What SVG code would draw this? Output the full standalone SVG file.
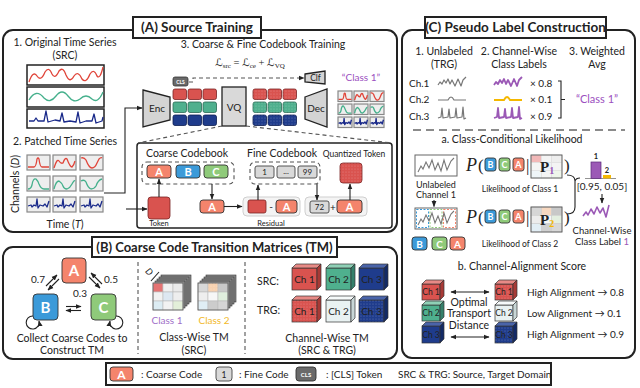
<svg xmlns="http://www.w3.org/2000/svg" width="640" height="388" viewBox="0 0 640 388">
<defs>
<style>
text{font-family:Lato,"Liberation Sans",sans-serif;fill:#222}
.t{font-size:10.5px}
.sm{font-size:8.5px}
.h{font-size:13.5px;font-weight:bold}
.c{text-anchor:middle}
.panel{fill:#fff;stroke:#222;stroke-width:2}
.tbox{fill:#fff;stroke:#222;stroke-width:2}
.ln{fill:none;stroke:#222;stroke-width:1.1}
.dash{fill:none;stroke:#555;stroke-width:1.1;stroke-dasharray:4 3}
.box{fill:#fff;stroke:#222;stroke-width:1.5}
.patch{fill:#eee;stroke:#888;stroke-width:1.2}
.sa{fill:#f4846c;stroke:#333;stroke-width:0.9}
.sb{fill:#3b9ad9;stroke:#333;stroke-width:0.9}
.sc{fill:#8fca7a;stroke:#333;stroke-width:0.9}
.lt{fill:#fff;font-weight:bold;text-anchor:middle}
.fine{fill:#d9d9d9;stroke:#444;stroke-width:0.9}
.rd{fill:#d9534f;stroke:#7a2323;stroke-width:0.8}
.tl{fill:#4fb08e;stroke:#2a6a54;stroke-width:0.8}
.nv{fill:#1f3c8c;stroke:#0d1d50;stroke-width:0.8}
.w{fill:none;stroke-width:1.3;stroke-linejoin:round;vector-effect:non-scaling-stroke}
.wr{stroke:#e0453a}.wt{stroke:#45b08c}.wn{stroke:#1a2a8a}
.cube{stroke:#333;stroke-width:0.7}
.mono{font-family:"Liberation Serif",serif}
.scr{font-family:"DejaVu Sans",sans-serif;font-style:italic}
</style>
<marker id="ah" viewBox="0 0 10 10" refX="9" refY="5" markerUnits="userSpaceOnUse" markerWidth="6" markerHeight="6" orient="auto-start-reverse"><path d="M0,1 L10,5 L0,9 z" fill="#222"/></marker>
<pattern id="dots" width="3" height="3" patternUnits="userSpaceOnUse"><circle cx="1" cy="1" r="0.5" fill="#fff" fill-opacity="0.35"/></pattern>
<path id="r1" class="w" d="M1,12 H7 Q9,12 10,4 Q11,2 12,4 Q13,12 15,12 H22"/>
<path id="r2" class="w" d="M1,13 Q4,3 6,6 Q8,9 10,8 Q12,2 14,4 Q17,12 19,12 Q21,10 22,6"/>
<path id="r3" class="w" d="M1,3 Q4,2 6,5 Q9,13 12,13 Q15,13 17,8 L19,4 Q21,2 22,3"/>
<path id="t1" class="w" d="M1,13 Q4,13 5,9 Q6,2 9,3 Q11,5 12,8 Q14,13 17,13 H22"/>
<path id="t2" class="w" d="M1,13 Q3,5 6,5 Q9,7 10,10 Q11,13 14,13 Q17,12 19,8 Q21,4 22,5"/>
<path id="t3" class="w" d="M1,5 Q4,3 6,6 Q8,12 11,13 Q14,13 16,10 Q18,4 22,3"/>
<path id="n1" class="w" d="M1,9 L4,8 L5,10 L7,8 L9,9 L10,2 L11,11 L13,8 L16,9 L18,7 L20,10 L22,4"/>
<path id="cw1" fill="none" stroke-linejoin="round" d="M438,85 L440,82 L442,84 L444,80 L446,83 L448,79 L450,84 L452,80 L455,86 L458,79 L461,86 L463,80 L466,77"/>
<path id="cw2" fill="none" d="M438,100 H448 Q451,94 454,100 H466"/>
<path id="cw3" fill="none" stroke-linejoin="round" d="M438,118 L441,117 L442,108 L443,118 L448,117 L449,109 L450,118 L455,117 L456,108 L457,118 L462,117 L463,107 L464,119 L466,118"/>
</defs>

<!-- Panels -->
<g id="panelA">
<rect class="panel" x="3" y="30" width="394" height="202" rx="10"/>
<rect class="tbox" x="133" y="17" width="128" height="21"/>
<text class="h c" x="197" y="32">(A) Source Training</text>
</g>
<g id="panelB">
<rect class="panel" x="3" y="247" width="394" height="112" rx="10"/>
<rect class="tbox" x="92" y="237" width="245" height="20"/>
<text class="h c" x="214.5" y="252" style="font-size:13px">(B) Coarse Code Transition Matrices (TM)</text>
</g>
<g id="panelC">
<rect class="panel" x="402" y="30" width="233" height="328" rx="10"/>
<rect class="tbox" x="425" y="17" width="181" height="21"/>
<text class="h c" x="515.5" y="32">(C) Pseudo Label Construction</text>
</g>

<!-- Section A1: original series -->
<g id="orig-series">
<text class="t c" x="65" y="46">1. Original Time Series</text>
<text class="t c" x="65" y="59">(SRC)</text>
<rect class="box" x="27" y="65" width="77" height="20"/>
<rect class="box" x="27" y="87" width="77" height="20"/>
<rect class="box" x="27" y="109" width="77" height="19"/>
<path class="w wr" d="M29,82 Q33,70 37,76 Q41,82 45,72 Q49,66 52,74 Q55,80 59,71 Q63,66 66,75 Q70,84 74,76 Q78,70 82,79 Q86,84 90,74 Q94,68 97,76 Q100,80 103,67"/>
<path class="w wt" d="M29,100 Q36,88 44,98 Q50,104 56,96 Q62,88 68,96 Q74,104 80,99 Q86,93 92,99 Q98,104 103,92"/>
<path class="w wn" d="M29,121 L34,121 L36,118 L38,121 L44,121 L46,111 L48,122 L55,120 L60,121 L62,113 L64,122 L70,121 L76,122 L78,112 L80,123 L86,121 L92,121 L94,114 L96,123 L102,121 L103,117"/>
</g>

<!-- Section A2: patched series -->
<g id="patched-series">
<text class="t c" x="65" y="145">2. Patched Time Series</text>
<rect class="patch" x="27" y="155" width="23" height="15"/><use href="#r1" class="wr" x="27" y="155"/>
<rect class="patch" x="53" y="155" width="23" height="15"/><use href="#r2" class="wr" x="53" y="155"/>
<rect class="patch" x="80" y="155" width="23" height="15"/><use href="#r3" class="wr" x="80" y="155"/>
<rect class="patch" x="27" y="176" width="23" height="15"/><use href="#t1" class="wt" x="27" y="176"/>
<rect class="patch" x="53" y="176" width="23" height="15"/><use href="#t2" class="wt" x="53" y="176"/>
<rect class="patch" x="80" y="176" width="23" height="15"/><use href="#t3" class="wt" x="80" y="176"/>
<rect class="patch" x="27" y="197" width="23" height="15"/><use href="#n1" class="wn" x="27" y="197"/>
<rect class="patch" x="53" y="197" width="23" height="15"/><use href="#n1" class="wn" x="53" y="197"/>
<rect class="patch" x="80" y="197" width="23" height="15"/><use href="#n1" class="wn" x="80" y="197"/>
<text class="t c" transform="translate(19,184) rotate(-90)">Channels (<tspan font-style="italic">D</tspan>)</text>
<text class="t c" x="65" y="228">Time (<tspan font-style="italic">T</tspan>)</text>
</g>

<!-- Section A3 -->
<g id="training">
<text class="t c" x="263" y="48">3. Coarse &amp; Fine Codebook Training</text>
<text x="250" y="66" class="c mono" font-size="10.5"><tspan class="scr">ℒ</tspan><tspan font-size="7" dy="2">src</tspan><tspan dy="-2"> = </tspan><tspan class="scr">ℒ</tspan><tspan font-size="7" dy="2">ce</tspan><tspan dy="-2"> + </tspan><tspan class="scr">ℒ</tspan><tspan font-size="7" dy="2">VQ</tspan></text>
</g>
<g id="cls-token">
<rect x="173" y="77" width="15" height="9" rx="2" fill="#6a6a6a" stroke="#333" stroke-width="0.8"/>
<text x="180.5" y="83.5" class="c" font-size="5" style="fill:#fff;font-weight:bold">CLS</text>
</g>
<g id="enc">
<polygon points="143,90 170,97 170,120 143,127" fill="#d4d4d4" stroke="#222" stroke-width="1.3"/>
<text class="c" x="157" y="112" font-size="10">Enc</text>
</g>
<g id="tokens">
<rect class="rd" x="173" y="89" width="13.5" height="10.5" rx="2"/><rect class="rd" x="188" y="89" width="13.5" height="10.5" rx="2"/><rect class="rd" x="203" y="89" width="13.5" height="10.5" rx="2"/>
<rect class="tl" x="173" y="102" width="13.5" height="10.5" rx="2"/><rect class="tl" x="188" y="102" width="13.5" height="10.5" rx="2"/><rect class="tl" x="203" y="102" width="13.5" height="10.5" rx="2"/>
<rect class="nv" x="173" y="115" width="13.5" height="10.5" rx="2"/><rect class="nv" x="188" y="115" width="13.5" height="10.5" rx="2"/><rect class="nv" x="203" y="115" width="13.5" height="10.5" rx="2"/>
</g>
<g id="vq">
<rect x="222" y="87" width="24" height="39" fill="#d9d9d9" stroke="#222" stroke-width="1.3"/>
<text class="c" x="234" y="111" font-size="10">VQ</text>
</g>
<g id="quantized">
<rect class="rd" x="253" y="89" width="13.5" height="10.5" rx="2"/><rect class="rd" x="268" y="89" width="13.5" height="10.5" rx="2"/><rect class="rd" x="283" y="89" width="13.5" height="10.5" rx="2"/>
<rect class="tl" x="253" y="102" width="13.5" height="10.5" rx="2"/><rect class="tl" x="268" y="102" width="13.5" height="10.5" rx="2"/><rect class="tl" x="283" y="102" width="13.5" height="10.5" rx="2"/>
<rect class="nv" x="253" y="115" width="13.5" height="10.5" rx="2"/><rect class="nv" x="268" y="115" width="13.5" height="10.5" rx="2"/><rect class="nv" x="283" y="115" width="13.5" height="10.5" rx="2"/>
<rect x="253" y="89" width="44" height="37" fill="url(#dots)"/>
</g>
<g id="clf">
<polygon points="305,74 325,71 325,84 305,82" fill="#d4d4d4" stroke="#222" stroke-width="1.3"/>
<text class="c" x="315.5" y="81" font-size="8.5">Clf</text>
</g>
<g id="class-out">
<text class="c" x="361" y="81" font-size="10" style="fill:#9b4fc0">“Class 1”</text>
</g>
<g id="dec">
<polygon points="305,97 327,89 327,127 305,119" fill="#d4d4d4" stroke="#222" stroke-width="1.3"/>
<text class="c" x="316" y="112" font-size="10">Dec</text>
</g>
<g id="recon">
<rect class="patch" x="338" y="91" width="14" height="10.5" stroke-width="0.9"/><use href="#r1" class="wr" transform="translate(338,91) scale(0.61,0.7)"/>
<rect class="patch" x="354" y="91" width="14" height="10.5" stroke-width="0.9"/><use href="#r2" class="wr" transform="translate(354,91) scale(0.61,0.7)"/>
<rect class="patch" x="370" y="91" width="14" height="10.5" stroke-width="0.9"/><use href="#r3" class="wr" transform="translate(370,91) scale(0.61,0.7)"/>
<rect class="patch" x="338" y="104" width="14" height="10.5" stroke-width="0.9"/><use href="#t1" class="wt" transform="translate(338,104) scale(0.61,0.7)"/>
<rect class="patch" x="354" y="104" width="14" height="10.5" stroke-width="0.9"/><use href="#t2" class="wt" transform="translate(354,104) scale(0.61,0.7)"/>
<rect class="patch" x="370" y="104" width="14" height="10.5" stroke-width="0.9"/><use href="#t3" class="wt" transform="translate(370,104) scale(0.61,0.7)"/>
<rect class="patch" x="338" y="117" width="14" height="10.5" stroke-width="0.9"/><use href="#n1" class="wn" transform="translate(338,117) scale(0.61,0.7)"/>
<rect class="patch" x="354" y="117" width="14" height="10.5" stroke-width="0.9"/><use href="#n1" class="wn" transform="translate(354,117) scale(0.61,0.7)"/>
<rect class="patch" x="370" y="117" width="14" height="10.5" stroke-width="0.9"/><use href="#n1" class="wn" transform="translate(370,117) scale(0.61,0.7)"/>
</g>

<!-- Inner codebook box -->
<g id="codebook-box">
<rect x="137" y="143" width="255" height="85" rx="3" fill="#fff" stroke="#222" stroke-width="1.5"/>
<text class="t c" x="187" y="157">Coarse Codebook</text>
<rect class="dash" x="142" y="162" width="92" height="22" rx="5"/>
<text class="t c" x="282" y="157">Fine Codebook</text>
<rect class="dash" x="250" y="162" width="70" height="22" rx="5"/>
<text class="sm c" x="354" y="157">Quantized Token</text>
</g>
<g id="coarse-A"><rect class="sa" x="147" y="165" width="24" height="13" rx="3"/><text class="lt" x="159" y="175.5" font-size="11">A</text></g>
<g id="coarse-B"><rect class="sb" x="176" y="165" width="24" height="13" rx="3"/><text class="lt" x="188" y="175.5" font-size="11">B</text></g>
<g id="coarse-C"><rect class="sc" x="204" y="165" width="24" height="13" rx="3"/><text class="lt" x="216" y="175.5" font-size="11">C</text></g>
<g id="fine-1"><rect class="fine" x="255" y="166" width="19" height="12" rx="2"/><text class="c" x="264.5" y="175" font-size="8">1</text></g>
<g id="fine-dots"><rect class="fine" x="277" y="166" width="18" height="12" rx="2"/><text class="c" x="286" y="174" font-size="8">...</text></g>
<g id="fine-99"><rect class="fine" x="298" y="166" width="19" height="12" rx="2"/><text class="c" x="307.5" y="175" font-size="8">99</text></g>
<g id="token"><rect class="rd" x="148" y="197" width="22" height="22" rx="3"/><text class="c" x="159" y="226" font-size="7.5">Token</text></g>
<g id="selected-A"><rect class="sa" x="200" y="200" width="24" height="13" rx="3"/><text class="lt" x="212" y="210.5" font-size="11">A</text></g>
<g id="residual">
<rect x="243" y="197" width="57" height="19" rx="4" fill="#f4f4f4" stroke="#cfcfcf"/>
<rect class="rd" x="248" y="200" width="18" height="13" rx="2"/>
<text class="c" x="271" y="210" font-size="10">-</text>
<rect class="sa" x="276" y="200" width="21" height="13" rx="3"/><text class="lt" x="286.5" y="210.5" font-size="11">A</text>
<text class="c" x="271" y="226" font-size="7.5">Residual</text>
</g>
<g id="sum">
<rect x="305" y="197" width="62" height="19" rx="4" fill="#f4f4f4" stroke="#cfcfcf"/>
<rect class="fine" x="310" y="201" width="19" height="12" rx="2"/><text class="c" x="319.5" y="210" font-size="8">72</text>
<text class="c" x="333" y="210.5" font-size="10">+</text>
<rect class="sa" x="337" y="200" width="25" height="13" rx="3"/><text class="lt" x="349.5" y="210.5" font-size="11">A</text>
</g>
<g id="quantized-token"><rect class="rd" x="340" y="163" width="22" height="20" rx="3"/><rect x="340" y="163" width="22" height="20" rx="3" fill="url(#dots)"/></g>

<!-- Panel B content -->
<g id="node-A"><rect class="sa" x="62" y="258" width="24" height="25" rx="4" stroke-width="1.2"/><text class="lt" x="74" y="276" font-size="15">A</text></g>
<g id="node-B"><rect class="sb" x="33" y="294" width="25" height="26" rx="4" stroke-width="1.2"/><text class="lt" x="45.5" y="312.5" font-size="15">B</text></g>
<g id="node-C"><rect class="sc" x="91" y="294" width="25" height="26" rx="4" stroke-width="1.2"/><text class="lt" x="103.5" y="312.5" font-size="15">C</text></g>
<g id="graph-labels">
<text class="c" x="38" y="283" font-size="10">0.7</text>
<text class="c" x="111" y="283" font-size="10">0.5</text>
<text class="c" x="80" y="297" font-size="10">0.3</text>
<text class="t c" x="72" y="342">Collect Coarse Codes to</text>
<text class="t c" x="72" y="354">Construct TM</text>
</g>
<g id="dividers">
<path class="dash" d="M138,262 V354 M245,262 V354"/>
</g>
<g id="classwise-tm">
<g stroke="#333" stroke-width="0.6" fill="#8a8a8a">
<rect x="161" y="275" width="30" height="27"/><rect x="159" y="277" width="30" height="27"/><rect x="157" y="279" width="30" height="27"/><rect x="155" y="281" width="30" height="27"/>
<rect x="206" y="275" width="30" height="27"/><rect x="204" y="277" width="30" height="27"/><rect x="202" y="279" width="30" height="27"/><rect x="200" y="281" width="30" height="27"/>
</g>
<g stroke="#bbb" stroke-width="0.6">
<rect x="153" y="283" width="10" height="9" fill="#e57373"/><rect x="163" y="283" width="10" height="9" fill="#f0f0f0"/><rect x="173" y="283" width="10" height="9" fill="#eaeaea"/>
<rect x="153" y="292" width="10" height="9" fill="#f2f2f2"/><rect x="163" y="292" width="10" height="9" fill="#dde8f2"/><rect x="173" y="292" width="10" height="9" fill="#eeeeee"/>
<rect x="153" y="301" width="10" height="9" fill="#dcecf3"/><rect x="163" y="301" width="10" height="9" fill="#f2f2f2"/><rect x="173" y="301" width="10" height="9" fill="#e3efd9"/>
<rect x="198" y="283" width="10" height="9" fill="#d8d8d8"/><rect x="208" y="283" width="10" height="9" fill="#f7d1b0"/><rect x="218" y="283" width="10" height="9" fill="#c8c8c8"/>
<rect x="198" y="292" width="10" height="9" fill="#eeeeee"/><rect x="208" y="292" width="10" height="9" fill="#f7f7f7"/><rect x="218" y="292" width="10" height="9" fill="#dfeedd"/>
<rect x="198" y="301" width="10" height="9" fill="#e0eef5"/><rect x="208" y="301" width="10" height="9" fill="#cccccc"/><rect x="218" y="301" width="10" height="9" fill="#d5d5d5"/>
</g>
<rect x="153" y="283" width="30" height="27" fill="none" stroke="#555" stroke-width="0.8"/>
<rect x="198" y="283" width="30" height="27" fill="none" stroke="#555" stroke-width="0.8"/>
<rect x="208" y="283" width="10" height="9" fill="url(#dots)"/>
<text transform="translate(147,274) rotate(45)" class="c" font-size="9" font-style="italic">D</text>
<path class="ln" d="M151,281 L159,272"/>
<text class="c" x="167" y="324" font-size="10" style="fill:#a070c8">Class 1</text>
<text class="c" x="214" y="324" font-size="10" style="fill:#f2b92a">Class 2</text>
<text class="t c" x="194" y="341">Class-Wise TM</text>
<text class="t c" x="194" y="354">(SRC)</text>
</g>
<g id="channelwise-tm">
<text class="t" x="257" y="285">SRC:</text>
<text class="t" x="257" y="314">TRG:</text>
<g class="cube">
<rect x="292" y="268" width="25" height="22" fill="#d9534f"/><polygon points="292,268 296,264 321,264 317,268" fill="#e88a86"/><polygon points="317,268 321,264 321,286 317,290" fill="#a83a36"/>
<rect x="326" y="268" width="25" height="22" fill="#4fb08e"/><polygon points="326,268 330,264 355,264 351,268" fill="#8fd0b6"/><polygon points="351,268 355,264 355,286 351,290" fill="#35806a"/>
<rect x="359" y="268" width="25" height="22" fill="#1f3c8c"/><polygon points="359,268 363,264 388,264 384,268" fill="#4a64aa"/><polygon points="384,268 388,264 388,286 384,290" fill="#132a66"/>
<rect x="292" y="300" width="25" height="22" fill="#d9534f"/><polygon points="292,300 296,296 321,296 317,300" fill="#e88a86"/><polygon points="317,300 321,296 321,318 317,322" fill="#a83a36"/>
<rect x="326" y="300" width="25" height="22" fill="#e9f2f2"/><polygon points="326,300 330,296 355,296 351,300" fill="#f6fafa"/><polygon points="351,300 355,296 355,318 351,322" fill="#c8d6d6"/>
<rect x="359" y="300" width="25" height="22" fill="#1f3c8c"/><polygon points="359,300 363,296 388,296 384,300" fill="#4a64aa"/><polygon points="384,300 388,296 388,318 384,322" fill="#132a66"/>
</g>
<rect x="292" y="300" width="25" height="22" fill="url(#dots)"/>
<rect x="359" y="300" width="25" height="22" fill="url(#dots)"/>
<g font-size="10" class="c">
<text class="c" x="304.5" y="283">Ch 1</text><text class="c" x="338.5" y="283">Ch 2</text><text class="c" x="371.5" y="283">Ch 3</text>
<text class="c" x="304.5" y="315">Ch 1</text><text class="c" x="338.5" y="315">Ch 2</text><text class="c" x="371.5" y="315">Ch 3</text>
</g>
<text class="t c" x="327" y="342">Channel-Wise TM</text>
<text class="t c" x="327" y="354">(SRC &amp; TRG)</text>
</g>

<!-- Panel C content -->
<g id="c-step-titles">
<text class="t c" x="444" y="55">1. Unlabeled</text>
<text class="t c" x="444" y="68">(TRG)</text>
<text class="t c" x="519" y="55">2. Channel-Wise</text>
<text class="t c" x="519" y="68">Class Labels</text>
<text class="t c" x="597" y="55">3. Weighted</text>
<text class="t c" x="597" y="68">Avg</text>
</g>
<g id="c-channels">
<text x="409" y="86.5" font-size="10">Ch.1</text>
<text x="409" y="103" font-size="10">Ch.2</text>
<text x="409" y="120" font-size="10">Ch.3</text>
<g stroke="#777" stroke-width="1.2"><use href="#cw1"/><use href="#cw2"/><use href="#cw3"/></g>
<g stroke-width="1.8" transform="translate(56,0)"><use href="#cw1" stroke="#9b59b6"/><use href="#cw2" stroke="#f5b800"/><use href="#cw3" stroke="#9b59b6"/></g>
<text x="530" y="86.5" font-size="10">× 0.8</text>
<text x="530" y="103" font-size="10">× 0.1</text>
<text x="530" y="120" font-size="10">× 0.9</text>
<path class="ln" d="M558,81 H561 V118 H558 M561,99.5 H565"/>
<text class="c" x="597" y="103" font-size="11" style="fill:#9b4fc0">“Class 1”</text>
</g>
<path d="M413,130 H625" fill="none" stroke="#666" stroke-width="1.5" stroke-dasharray="8 5"/>
<g id="likelihood">
<text class="t c" x="512" y="143">a. Class-Conditional Likelihood</text>
<rect x="415" y="155" width="42" height="21" fill="#fff" stroke="#666"/>
<path fill="none" stroke="#777" stroke-width="1.1" d="M418,172 L421,166 L423,169 L426,162 L429,168 L432,160 L435,170 L438,163 L441,171 L444,160 L447,170 L451,161 L454,158"/>
<text class="c" x="436" y="187.5" font-size="9">Unlabeled</text>
<text class="c" x="436" y="198" font-size="9">Channel 1</text>
<rect x="415" y="208" width="42" height="21" fill="#fff" stroke="#666"/>
<rect x="416.5" y="209.5" width="12" height="18" fill="none" stroke="#3b9ad9" stroke-dasharray="2 1.5"/>
<rect x="430" y="209.5" width="12" height="18" fill="none" stroke="#8fca7a" stroke-dasharray="2 1.5"/>
<rect x="443.5" y="209.5" width="12" height="18" fill="none" stroke="#f4846c" stroke-dasharray="2 1.5"/>
<path fill="none" stroke="#777" stroke-width="1.1" d="M418,225 L421,219 L423,222 L426,215 L429,221 L432,213 L435,223 L438,216 L441,224 L444,213 L447,223 L451,214 L454,211"/>
<rect class="sb" x="412" y="237" width="15" height="13" rx="3"/><text class="lt" x="419.5" y="247.5" font-size="10">B</text>
<rect class="sc" x="432" y="237" width="15" height="13" rx="3"/><text class="lt" x="439.5" y="247.5" font-size="10">C</text>
<rect class="sa" x="450" y="237" width="15" height="13" rx="3"/><text class="lt" x="457.5" y="247.5" font-size="10">A</text>
</g>
<g id="likelihood-1">
<text x="466" y="171" class="mono" font-size="18" font-style="italic">P</text>
<text x="478" y="171" class="mono" font-size="17">(</text>
<rect class="sb" x="485" y="158" width="11" height="13" rx="2.5"/><text class="lt" x="490.5" y="168" font-size="9">B</text>
<rect class="sc" x="499" y="158" width="11" height="13" rx="2.5"/><text class="lt" x="504.5" y="168" font-size="9">C</text>
<rect class="sa" x="513" y="158" width="11" height="13" rx="2.5"/><text class="lt" x="518.5" y="168" font-size="9">A</text>
<text x="526" y="171" class="mono" font-size="17">|</text>
<g stroke="#ddd" stroke-width="0.6"><rect x="531" y="155" width="10.3" height="7.7" fill="#f2b8b8"/><rect x="541.3" y="155" width="10.3" height="7.7" fill="#f4f4f4"/><rect x="551.6" y="155" width="10.3" height="7.7" fill="#eee"/>
<rect x="531" y="162.7" width="10.3" height="7.7" fill="#f4f4f4"/><rect x="541.3" y="162.7" width="10.3" height="7.7" fill="#eef3f7"/><rect x="551.6" y="162.7" width="10.3" height="7.7" fill="#f4f4f4"/>
<rect x="531" y="170.4" width="10.3" height="7.7" fill="#eef5f8"/><rect x="541.3" y="170.4" width="10.3" height="7.7" fill="#f4f4f4"/><rect x="551.6" y="170.4" width="10.3" height="7.7" fill="#eef5ea"/></g>
<rect x="531" y="155" width="31" height="23" fill="none" stroke="#555" stroke-width="0.9"/>
<text x="540" y="172" class="mono" font-size="15" font-weight="bold">P<tspan font-size="10" dy="2" style="fill:#9b59b6">1</tspan></text>
<text x="564" y="171" class="mono" font-size="17">)</text>
<text class="c" x="520" y="192" font-size="8.5">Likelihood of Class 1</text>
</g>
<g id="likelihood-2">
<text x="466" y="223" class="mono" font-size="18" font-style="italic">P</text>
<text x="478" y="223" class="mono" font-size="17">(</text>
<rect class="sb" x="485" y="210" width="11" height="13" rx="2.5"/><text class="lt" x="490.5" y="220" font-size="9">B</text>
<rect class="sc" x="499" y="210" width="11" height="13" rx="2.5"/><text class="lt" x="504.5" y="220" font-size="9">C</text>
<rect class="sa" x="513" y="210" width="11" height="13" rx="2.5"/><text class="lt" x="518.5" y="220" font-size="9">A</text>
<text x="526" y="223" class="mono" font-size="17">|</text>
<g stroke="#ccc" stroke-width="0.6"><rect x="531" y="207" width="10.3" height="8.3" fill="#d6d6d6"/><rect x="541.3" y="207" width="10.3" height="8.3" fill="#f7d8c0"/><rect x="551.6" y="207" width="10.3" height="8.3" fill="#c8c8c8"/>
<rect x="531" y="215.3" width="10.3" height="8.3" fill="#ececec"/><rect x="541.3" y="215.3" width="10.3" height="8.3" fill="#f6f6f6"/><rect x="551.6" y="215.3" width="10.3" height="8.3" fill="#e3efe0"/>
<rect x="531" y="223.6" width="10.3" height="8.3" fill="#e2eef5"/><rect x="541.3" y="223.6" width="10.3" height="8.3" fill="#d0d0d0"/><rect x="551.6" y="223.6" width="10.3" height="8.3" fill="#d8d8d8"/></g>
<rect x="531" y="207" width="31" height="25" fill="none" stroke="#555" stroke-width="0.9"/>
<text x="540" y="225" class="mono" font-size="15" font-weight="bold">P<tspan font-size="10" dy="2" style="fill:#f5b800">2</tspan></text>
<text x="564" y="223" class="mono" font-size="17">)</text>
<text class="c" x="520" y="246.5" font-size="8.5">Likelihood of Class 2</text>
</g>
<g id="class-probs">
<path class="ln" d="M567,175 Q575,175 575,181 V207 Q575,214 567,214 M575,181 Q576,178 580,178"/>
<path d="M585,178.5 H616" stroke="#777" stroke-width="0.8"/>
<rect x="591" y="162" width="10" height="16.5" fill="#9b59b6" stroke="#5a2a7a" stroke-width="0.7"/>
<rect x="603" y="175" width="8" height="3.5" fill="#f5b800"/>
<text class="c" x="596" y="159" font-size="7.5" font-weight="bold">1</text>
<text class="c" x="607" y="173" font-size="7.5" font-weight="bold">2</text>
<text class="c" x="602" y="190" font-size="10">[0.95, 0.05]</text>
<path fill="none" stroke="#9b59b6" stroke-width="1.6" stroke-linejoin="round" d="M583,216 L586,212 L588,215 L591,209 L594,214 L597,207 L600,213 L603,208 L606,217 L609,205"/>
<text class="c" x="602" y="233.5" font-size="9.5">Channel-Wise</text>
<text class="c" x="602" y="245" font-size="9.5">Class Label <tspan style="fill:#9b59b6">1</tspan></text>
</g>
<g id="alignment">
<text class="t c" x="522" y="269.5">b. Channel-Alignment Score</text>
<g class="cube">
<rect x="422" y="284" width="18" height="16" fill="#d9534f"/><polygon points="422,284 426,280 444,280 440,284" fill="#e88a86"/><polygon points="440,284 444,280 444,296 440,300" fill="#a83a36"/>
<rect x="422" y="305" width="18" height="16" fill="#4fb08e"/><polygon points="422,305 426,301 444,301 440,305" fill="#8fd0b6"/><polygon points="440,305 444,301 444,317 440,321" fill="#35806a"/>
<rect x="422" y="326" width="18" height="17" fill="#1f3c8c"/><polygon points="422,326 426,322 444,322 440,326" fill="#4a64aa"/><polygon points="440,326 444,322 444,339 440,343" fill="#132a66"/>
<rect x="495" y="284" width="18" height="16" fill="#d9534f"/><polygon points="495,284 499,280 517,280 513,284" fill="#e88a86"/><polygon points="513,284 517,280 517,296 513,300" fill="#a83a36"/>
<rect x="495" y="305" width="18" height="16" fill="#e9f2f2"/><polygon points="495,305 499,301 517,301 513,305" fill="#f6fafa"/><polygon points="513,305 517,301 517,317 513,321" fill="#c8d6d6"/>
<rect x="495" y="326" width="18" height="17" fill="#1f3c8c"/><polygon points="495,326 499,322 517,322 513,326" fill="#4a64aa"/><polygon points="513,326 517,322 517,339 513,343" fill="#132a66"/>
</g>
<rect x="495" y="284" width="18" height="16" fill="url(#dots)"/>
<rect x="495" y="326" width="18" height="17" fill="url(#dots)"/>
<g font-size="8.5">
<text class="c" x="431" y="295">Ch 1</text><text class="c" x="431" y="316">Ch 2</text><text class="c" x="431" y="337.5">Ch 3</text>
<text class="c" x="504" y="295">Ch 1</text><text class="c" x="504" y="316">Ch 2</text><text class="c" x="504" y="337.5">Ch 3</text>
</g>
<text class="t c" x="469" y="306">Optimal</text>
<text class="t c" x="469" y="317">Transport</text>
<text class="t c" x="469" y="328.5">Distance</text>
<text x="527" y="295.5" font-size="10">High Alignment → 0.8</text>
<text x="527" y="316.5" font-size="10">Low Alignment → 0.1</text>
<text x="527" y="338" font-size="10">High Alignment → 0.9</text>
</g>

<!-- Legend -->
<g id="legend">
<rect x="106" y="363" width="445" height="22" fill="#fff" stroke="#222" stroke-width="2"/>
<rect class="sa" x="110" y="367" width="23" height="14" rx="3"/><text class="lt" x="121.5" y="378.5" font-size="12">A</text>
<text x="141" y="378" font-size="10">: Coarse Code</text>
<rect class="fine" x="216" y="367" width="16" height="14" rx="3"/><text class="c" x="224" y="377.5" font-size="8.5">1</text>
<text x="239" y="378" font-size="10">: Fine Code</text>
<rect x="296" y="367" width="20" height="14" rx="3" fill="#6a6a6a" stroke="#333" stroke-width="0.9"/><text class="c" x="306" y="376.5" font-size="6" style="fill:#fff;font-weight:bold">CLS</text>
<text x="326" y="378" font-size="10">: [CLS] Token</text>
<text x="398" y="378" font-size="10">SRC &amp; TRG: Source, Target Domain</text>
</g>

<!-- Connectors -->
<g id="connectors">
<path class="ln" d="M104,193 H125 V108 H142" marker-end="url(#ah)"/>
<path class="ln" d="M126,209 H147" marker-end="url(#ah)"/>
<path class="dash" d="M189,82 H193 V78 H304" marker-end="url(#ah)"/>
<path class="dash" d="M222,126 L138,143 M246,126 L392,143"/>
<path class="ln" d="M159,197 V179" marker-end="url(#ah)"/>
<path class="ln" d="M212,184 V199" marker-end="url(#ah)"/>
<path class="ln" d="M224,206.5 H242" marker-end="url(#ah)"/>
<path class="ln" d="M258,200 V185" marker-end="url(#ah)"/>
<path class="ln" d="M317,184 V200" marker-end="url(#ah)"/>
<path class="ln" d="M350,200 V184" marker-end="url(#ah)"/>
<path class="ln" d="M59,279 L48,290" marker-end="url(#ah)"/>
<path class="ln" d="M46,286 L57,275" marker-end="url(#ah)"/>
<path class="ln" d="M89,277 L100,288" marker-end="url(#ah)"/>
<path class="ln" d="M102,284 L91,273" marker-end="url(#ah)"/>
<path class="ln" d="M66,306.5 H81" marker-end="url(#ah)"/>
<path class="ln" d="M81,310.5 H66" marker-end="url(#ah)"/>
<path class="ln" d="M33,316 A6.5,6.5 0 1 0 39,321" marker-end="url(#ah)"/>
<path class="ln" d="M116,316 A6.5,6.5 0 1 1 110,321" marker-end="url(#ah)"/>
<path class="ln" d="M434,200 V206.5" marker-end="url(#ah)"/>
<path class="ln" d="M602,194 V203" marker-end="url(#ah)"/>
<path class="ln" d="M451,292 H489" marker-start="url(#ah)" marker-end="url(#ah)"/>
<path class="ln" d="M451,337 H489" marker-start="url(#ah)" marker-end="url(#ah)"/>
</g>
</svg>
